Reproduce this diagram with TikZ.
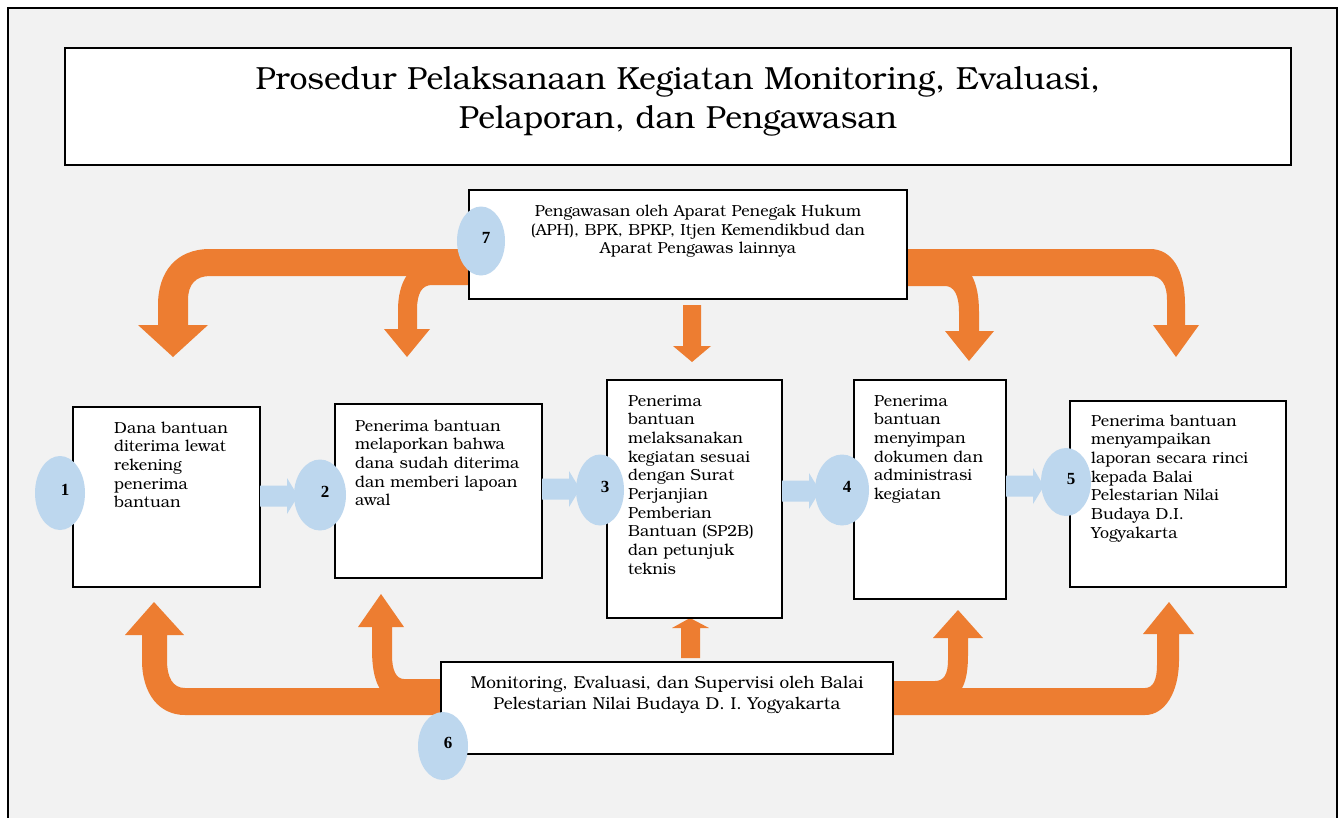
\documentclass[tikz,border=0pt]{standalone}
\usepackage{fontspec}
\setmainfont{texgyrebonum}[Extension=.otf, UprightFont=*-regular, BoldFont=*-bold]
\newfontfamily\numfont{Liberation Serif}
\usetikzlibrary{shapes.geometric}
\definecolor{bg}{HTML}{F2F2F2}
\definecolor{orng}{HTML}{ED7D31}
\definecolor{lblue}{HTML}{BDD7EE}
\tikzset{
  box/.style={draw=black, line width=2pt, fill=white, anchor=north west, inner sep=0pt, outer sep=0pt},
  numell/.style={ellipse, fill=lblue, inner sep=0pt, outer sep=0pt},
  numtxt/.style={font=\numfont\bfseries\fontsize{17}{20}\selectfont, inner sep=0pt},
  body/.style={font=\fontsize{16}{18.7}\selectfont, anchor=base west, align=left, inner sep=0pt, text width=#1},
  ctrtext/.style={anchor=base, align=center, inner sep=0pt, text width=440pt},
  oarrow/.style={fill=orng},
  barrow/.style={fill=lblue}
}
\newcommand\bluearr[1]{\fill[barrow] (#1) ++(0,-10.5) -- ++(27,0) -- ++(0,-7.5) -- ++(11,18) -- ++(-11,18) -- ++(0,-7.5) -- ++(-27,0) -- cycle;}
\begin{document}
\begin{tikzpicture}[x=1pt,y=-1pt]
\useasboundingbox (0,0) rectangle (1343,817);
\fill[white] (0,0) rectangle (1343,817);
\draw[line width=2pt, fill=bg] (8,7.5) rectangle (1337,840);

% title
\node[box, minimum width=1226pt, minimum height=117pt] (titlebox) at (65,48) {};
\node[anchor=base, align=center, inner sep=0pt, text width=1200pt, font=\fontsize{32}{39}\selectfont] (title) at (678,89)
  {Prosedur Pelaksanaan Kegiatan Monitoring, Evaluasi,\\Pelaporan, dan Pengawasan};

% orange arrows (top)
\fill[oarrow] (469,249) -- (210,249) .. controls (176,249) and (158,272) .. (158,305) -- (158,325) -- (138,325) -- (173,357) -- (208,325) -- (188,325) -- (188,300) .. controls (188,284) and (196,276) .. (210,276) -- (469,276) -- cycle;
\fill[oarrow] (469,285) -- (432,285) .. controls (422,285) and (417,293) .. (417,310) -- (417,329) -- (430,329) -- (407,357) -- (384,329) -- (398,329) -- (398,310) .. controls (398,282) and (410,262) .. (432,262) -- (469,262) -- cycle;
\fill[oarrow] (683,305) -- (701,305) -- (701,346) -- (711,346) -- (692,362) -- (673,346) -- (683,346) -- cycle;
\fill[oarrow] (907,249) -- (1150,249) .. controls (1172,249) and (1185,270) .. (1185,305) -- (1185,325) -- (1199,325) -- (1176,357) -- (1153,325) -- (1167,325) -- (1167,300) .. controls (1167,285) and (1162,276) .. (1150,276) -- (907,276) -- cycle;
\fill[oarrow] (907,286) -- (945,286) .. controls (954,286) and (959,295) .. (959,312) -- (959,331) -- (945,331) -- (969,361) -- (994,331) -- (979,331) -- (979,312) .. controls (979,282) and (970,262) .. (948,262) -- (907,262) -- cycle;

% orange arrows (bottom)
\fill[oarrow] (442,715) -- (185,715) .. controls (160,715) and (142,695) .. (142,660) -- (142,635) -- (125,635) -- (154,602) -- (184,635) -- (167,635) -- (167,660) .. controls (167,678) and (173,688) .. (185,688) -- (442,688) -- cycle;
\fill[oarrow] (442,679) -- (404,679) .. controls (396,679) and (392,670) .. (392,655) -- (392,627) -- (404,627) -- (381,594) -- (358,627) -- (372,627) -- (372,650) .. controls (372,680) and (380,700) .. (400,700) -- (442,700) -- cycle;
\fill[oarrow] (681,658) -- (700,658) -- (700,628) -- (709,628) -- (690,618) -- (672,628) -- (681,628) -- cycle;
\fill[oarrow] (893,688) -- (1145,688) .. controls (1153,688) and (1157,680) .. (1157,665) -- (1157,634) -- (1143,634) -- (1169,602) -- (1194,634) -- (1179,634) -- (1179,660) .. controls (1179,692) and (1165,715) .. (1145,715) -- (893,715) -- cycle;
\fill[oarrow] (893,681) -- (935,681) .. controls (944,681) and (948,674) .. (948,660) -- (948,638) -- (933,638) -- (958,610) -- (983,638) -- (968,638) -- (968,655) .. controls (968,682) and (962,700) .. (940,700) -- (893,700) -- cycle;

% boxes
\node[box, minimum width=187pt, minimum height=180pt] (b1) at (73,407) {};
\node[box, minimum width=207pt, minimum height=174pt] (b2) at (335,404) {};
\node[box, minimum width=175pt, minimum height=238pt] (b3) at (607,380) {};
\node[box, minimum width=152pt, minimum height=219pt] (b4) at (854,380) {};
\node[box, minimum width=216pt, minimum height=186pt] (b5) at (1070,401) {};
\node[box, minimum width=452pt, minimum height=92pt] (b6) at (441,662) {};
\node[box, minimum width=438pt, minimum height=109pt] (b7) at (469,190) {};

% blue arrows
\coordinate (y12) at (0,496);
\coordinate (y23) at (0,489);
\coordinate (y34) at (0,491);
\coordinate (y45) at (0,486);
\bluearr{b1.east |- y12}
\bluearr{b2.east |- y23}
\bluearr{b3.east |- y34}
\bluearr{b4.east |- y45}

% number ellipses
\node[numell, minimum width=50pt, minimum height=74pt] (e1) at (60,493) {};
\node[numell, minimum width=52pt, minimum height=71pt] (e2) at (320,495) {};
\node[numell, minimum width=48pt, minimum height=71pt] (e3) at (600,490) {};
\node[numell, minimum width=54pt, minimum height=71pt] (e4) at (842,490) {};
\node[numell, minimum width=50pt, minimum height=68pt] (e5) at (1066,482) {};
\node[numell, minimum width=50pt, minimum height=68pt] (e6) at (443,746) {};
\node[numell, minimum width=48pt, minimum height=69pt] (e7) at (481,241) {};
\node[numtxt] (n1) at ([shift={(5,-3)}]e1.center) {1};
\node[numtxt] (n2) at ([shift={(5,-3)}]e2.center) {2};
\node[numtxt] (n3) at ([shift={(5,-3)}]e3.center) {3};
\node[numtxt] (n4) at ([shift={(5,-3)}]e4.center) {4};
\node[numtxt] (n5) at ([shift={(5,-3)}]e5.center) {5};
\node[numtxt] (n6) at ([shift={(5,-3)}]e6.center) {6};
\node[numtxt] (n7) at ([shift={(5,-3)}]e7.center) {7};

% texts
\node[body=150pt] (t1) at (114,433) {Dana bantuan\\diterima lewat\\rekening\\penerima\\bantuan};
\node[body=200pt] (t2) at (355,431) {Penerima bantuan\\melaporkan bahwa\\dana sudah diterima\\dan memberi lapoan\\awal};
\node[body=160pt] (t3) at (628,406) {Penerima\\bantuan\\melaksanakan\\kegiatan sesuai\\dengan Surat\\Perjanjian\\Pemberian\\Bantuan (SP2B)\\dan petunjuk\\teknis};
\node[body=140pt] (t4) at (874,406) {Penerima\\bantuan\\menyimpan\\dokumen dan\\administrasi\\kegiatan};
\node[body=200pt] (t5) at (1091,426) {Penerima bantuan\\menyampaikan\\laporan secara rinci\\kepada Balai\\Pelestarian Nilai\\Budaya D.I.\\Yogyakarta};
\node[ctrtext, font=\fontsize{16}{18.7}\selectfont] (t7) at (698,216.5) {Pengawasan oleh Aparat Penegak Hukum\\(APH), BPK, BPKP, Itjen Kemendikbud dan\\Aparat Pengawas lainnya};
\node[ctrtext, font=\fontsize{17.2}{21.5}\selectfont] (t6) at (667,688) {Monitoring, Evaluasi, dan Supervisi oleh Balai\\Pelestarian Nilai Budaya D. I. Yogyakarta};
\end{tikzpicture}
\end{document}
